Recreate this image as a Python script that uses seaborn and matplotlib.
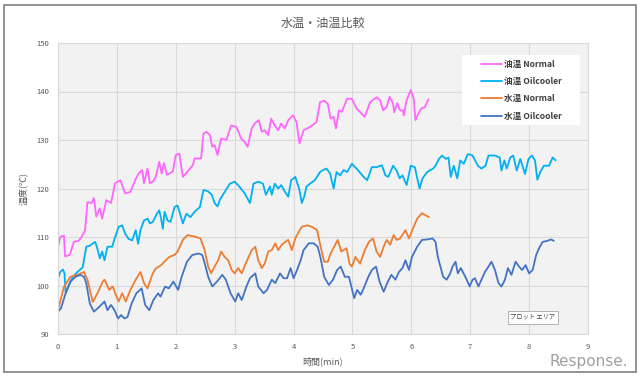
import pandas as pd
import matplotlib.pyplot as plt
import seaborn as sns
from matplotlib.patches import Rectangle

# --- data (time in min, temperature in deg C) ---
t_oil_normal = [0, 0.04, 0.1, 0.12, 0.2, 0.27, 0.35, 0.4, 0.46, 0.5,
                0.57, 0.61, 0.65, 0.71, 0.75, 0.82, 0.9, 0.97, 1.06, 1.14,
                1.23, 1.31, 1.37, 1.43, 1.46, 1.52, 1.56, 1.61, 1.66, 1.72,
                1.76, 1.8, 1.85, 1.95, 2.0, 2.06, 2.12, 2.2, 2.29, 2.32,
                2.43, 2.47, 2.52, 2.58, 2.62, 2.66, 2.71, 2.77, 2.86, 2.94,
                3.03, 3.11, 3.17, 3.22, 3.29, 3.34, 3.41, 3.46, 3.51, 3.57,
                3.62, 3.68, 3.74, 3.79, 3.85, 3.91, 3.99, 4.05, 4.1, 4.17,
                4.28, 4.39, 4.45, 4.52, 4.58, 4.63, 4.68, 4.72, 4.77, 4.82,
                4.91, 4.99, 5.07, 5.16, 5.21, 5.3, 5.41, 5.47, 5.52, 5.58,
                5.63, 5.69, 5.71, 5.76, 5.81, 5.86, 5.87, 5.92, 5.99, 6.04,
                6.07, 6.12, 6.17, 6.23, 6.29]
oil_normal = [108, 110, 110.3, 106, 106.3, 109, 109.2, 110, 111.4, 117.2,
              117, 118, 114.2, 115.9, 113.8, 117.6, 117, 121.1, 121.7, 119,
              119.3, 121.7, 123.1, 123.8, 121.1, 124.1, 121.1, 121.4, 122.4, 125.5,
              123.1, 125.2, 122.8, 123.5, 126.9, 127.2, 122.4, 123.5, 124.8, 126.2,
              126.2, 131.3, 131.7, 131, 128.6, 128.9, 126.9, 130.3, 130, 133,
              132.7, 130.3, 129.6, 128.6, 132.4, 133.4, 134.1, 131.7, 132, 131,
              134.4, 133, 132, 133.4, 132.4, 134.1, 135.1, 133.7, 129.3, 132,
              132.7, 133.7, 137.8, 138.1, 137.5, 134.4, 134.8, 132.4, 136.1, 135.8,
              138.5, 138.5, 136.5, 135.4, 134.8, 137.8, 138.8, 138.2, 136.1, 136.8,
              138.9, 137.5, 135.7, 137.6, 136.1, 136.1, 135.1, 138.2, 140.3, 138.6,
              134.1, 135.5, 136.5, 136.8, 138.4]

t_oil_cooler = [0, 0.04, 0.085, 0.11, 0.13, 0.25, 0.33, 0.39, 0.42, 0.48,
                0.54, 0.63, 0.66, 0.71, 0.75, 0.79, 0.84, 0.92, 0.96, 1.03,
                1.09, 1.14, 1.2, 1.26, 1.32, 1.36, 1.4, 1.46, 1.52, 1.56,
                1.61, 1.68, 1.72, 1.75, 1.78, 1.81, 1.86, 1.91, 1.98, 2.03,
                2.09, 2.12, 2.18, 2.25, 2.32, 2.41, 2.47, 2.55, 2.61, 2.66,
                2.71, 2.75, 2.8, 2.92, 3.0, 3.08, 3.17, 3.26, 3.32, 3.4,
                3.48, 3.53, 3.6, 3.63, 3.68, 3.74, 3.79, 3.87, 3.91, 3.96,
                4.03, 4.1, 4.14, 4.18, 4.22, 4.28, 4.36, 4.45, 4.5, 4.56,
                4.62, 4.68, 4.73, 4.79, 4.85, 4.91, 4.99, 5.07, 5.12, 5.19,
                5.25, 5.33, 5.41, 5.5, 5.56, 5.61, 5.69, 5.75, 5.8, 5.85,
                5.92, 5.99, 6.06, 6.1, 6.14, 6.19, 6.27, 6.37, 6.41, 6.47,
                6.52, 6.59, 6.63, 6.67, 6.72, 6.78, 6.83, 6.89, 6.96, 7.04,
                7.13, 7.19, 7.26, 7.31, 7.42, 7.5, 7.53, 7.58, 7.62, 7.68,
                7.73, 7.79, 7.85, 7.93, 7.99, 8.05, 8.1, 8.14, 8.19, 8.25,
                8.34, 8.4, 8.45]
oil_cooler = [101.5, 102.8, 103.3, 102.5, 98.5, 101.8, 102.8, 103.4, 103.8, 108,
              108.2, 109, 108, 105.6, 107, 105.2, 108, 108, 109.6, 112.1,
              112.4, 110.7, 109.6, 109.3, 111.4, 108.6, 111.4, 113.4, 113.8, 112.8,
              113.1, 114.8, 115.5, 113.8, 111.7, 115.2, 113.4, 113.1, 116.2, 116.5,
              114.1, 112.8, 114.8, 114.1, 115.2, 116.2, 119.7, 119.4, 118.7, 117,
              116.3, 117.7, 118.7, 121, 121.4, 120.4, 119, 117, 121, 121.4,
              121, 118.7, 120.4, 118.7, 121, 120, 120.7, 119, 118.3, 121.7,
              122.4, 119.7, 117, 118.3, 120.4, 121, 121.7, 123.4, 123.8, 124.1,
              123.1, 120, 123.4, 122.7, 123.8, 123.4, 125.1, 124.1, 123.4, 122.4,
              121.7, 124.4, 124.4, 124.8, 122.7, 122.4, 124.7, 123.7, 122.1, 122.7,
              120.7, 124.7, 124.4, 122.1, 120, 122.1, 123.4, 124.1, 124.7, 126.1,
              126.8, 126.1, 126.4, 122.4, 124.7, 122.1, 125.8, 125.1, 127.1, 126.8,
              124.7, 124.1, 124.7, 126.8, 126.8, 126.4, 123.7, 125.8, 124.1, 126.4,
              126.8, 123.7, 126.1, 123, 126.1, 126.8, 125.8, 121.8, 123.4, 124.7,
              124.7, 126.4, 125.8]

t_water_normal = [0, 0.1, 0.21, 0.33, 0.44, 0.5, 0.59, 0.67, 0.76, 0.79,
                  0.87, 0.93, 0.98, 1.03, 1.09, 1.15, 1.23, 1.32, 1.4, 1.46,
                  1.52, 1.61, 1.66, 1.75, 1.83, 1.89, 1.98, 2.03, 2.12, 2.2,
                  2.32, 2.42, 2.49, 2.55, 2.6, 2.66, 2.72, 2.77, 2.83, 2.89,
                  2.95, 3.0, 3.06, 3.12, 3.2, 3.29, 3.35, 3.4, 3.46, 3.51,
                  3.57, 3.63, 3.69, 3.74, 3.8, 3.86, 3.91, 3.97, 4.03, 4.09,
                  4.14, 4.23, 4.31, 4.4, 4.46, 4.52, 4.58, 4.63, 4.69, 4.75,
                  4.81, 4.9, 4.95, 4.99, 5.05, 5.13, 5.21, 5.28, 5.35, 5.41,
                  5.47, 5.53, 5.58, 5.64, 5.7, 5.75, 5.81, 5.9, 5.96, 6.04,
                  6.1, 6.18, 6.24, 6.3]
water_normal = [94.9, 99.7, 101.8, 102.2, 102.8, 101.2, 96.6, 98.4, 100.8, 101.2,
                99.1, 99.8, 98.1, 96.7, 98.4, 96.7, 99.1, 101.2, 102.8, 100.5,
                99.4, 102.5, 103.5, 104.2, 105.2, 105.9, 106.3, 107, 109.4, 110.4,
                110.1, 109.7, 107.3, 103.9, 102.5, 103.9, 105.2, 107, 105.9, 105.2,
                103.2, 102.5, 103.6, 102.5, 104.9, 107.3, 108, 105.2, 103.6, 104.5,
                107, 107.3, 108.7, 107.3, 108.4, 109, 109.4, 107.3, 109.7, 111.1,
                112.1, 112.4, 112.1, 111.4, 108, 104.9, 104.9, 106.6, 108, 109.4,
                107, 107.7, 104.5, 103.9, 105.9, 104.5, 107.3, 109, 109.7, 107,
                105.9, 108, 109.4, 108.4, 110.4, 109.4, 109.7, 111.4, 109.7, 112.1,
                113.8, 114.9, 114.5, 114.1]

t_water_cooler = [0, 0.05, 0.13, 0.21, 0.3, 0.38, 0.44, 0.48, 0.54, 0.61,
                  0.7, 0.79, 0.84, 0.9, 0.96, 1.02, 1.07, 1.13, 1.18, 1.25,
                  1.33, 1.42, 1.48, 1.55, 1.62, 1.7, 1.74, 1.82, 1.88, 1.96,
                  2.04, 2.1, 2.19, 2.28, 2.39, 2.45, 2.5, 2.55, 2.62, 2.7,
                  2.79, 2.85, 2.93, 3.01, 3.06, 3.12, 3.2, 3.26, 3.35, 3.4,
                  3.49, 3.55, 3.63, 3.69, 3.77, 3.83, 3.89, 3.95, 4.0, 4.06,
                  4.12, 4.17, 4.26, 4.34, 4.41, 4.46, 4.52, 4.6, 4.67, 4.74,
                  4.8, 4.87, 4.94, 5.03, 5.08, 5.14, 5.18, 5.27, 5.33, 5.4,
                  5.46, 5.53, 5.59, 5.66, 5.73, 5.79, 5.85, 5.9, 5.96, 6.01,
                  6.1, 6.18, 6.27, 6.36, 6.41, 6.45, 6.5, 6.54, 6.6, 6.66,
                  6.7, 6.75, 6.79, 6.84, 6.9, 6.94, 6.99, 7.04, 7.08, 7.14,
                  7.19, 7.25, 7.31, 7.36, 7.42, 7.48, 7.53, 7.59, 7.64, 7.7,
                  7.77, 7.83, 7.88, 7.94, 8.0, 8.06, 8.12, 8.17, 8.23, 8.31,
                  8.37, 8.42]
water_cooler = [94.6, 95.3, 98.4, 100.8, 101.8, 102.2, 101.8, 100.5, 96.3, 94.6,
                95.6, 96.7, 94.9, 96, 94.9, 93.2, 93.9, 93.2, 93.5, 96.3,
                98.4, 99.4, 96, 94.9, 97, 98.4, 97.7, 99.8, 99.4, 100.8,
                99.1, 101.8, 104.9, 106.3, 106.6, 106.3, 104.2, 101.8, 99.8, 100.8,
                102.2, 101.2, 98.4, 96.7, 98.4, 97, 99.8, 101.5, 102.5, 99.8,
                98.4, 99.1, 101.2, 100.5, 102.5, 101.5, 101.5, 103.6, 101.5, 103.2,
                105.2, 107.3, 108.7, 108.7, 108, 105.6, 101.8, 100.1, 101.2, 103.2,
                103.9, 101.8, 101.8, 97.4, 99.1, 98.1, 99.1, 101.8, 103.2, 103.9,
                100.8, 98.7, 100.5, 102.2, 101.2, 102.8, 103.6, 105.2, 103.2, 105.9,
                108, 109.4, 109.5, 109.7, 109, 105.9, 103.6, 101.8, 101.2, 102.5,
                103.9, 104.9, 102.5, 103.6, 102.2, 101.2, 99.8, 101.2, 101.5, 99.8,
                101.2, 102.8, 103.9, 104.9, 103.2, 100.5, 99.8, 101.2, 103.6, 102.2,
                104.9, 103.9, 103.2, 104.2, 102.5, 103.2, 106.3, 107.7, 109, 109.2,
                109.5, 109.2]

labels = ['油温 Normal', '油温 Oilcooler', '水温 Normal', '水温 Oilcooler']
colors = ['#ff66ff', '#00b0f0', '#ed7d31', '#4472c4']
x_ticks = list(range(0, 10))
y_ticks = list(range(90, 151, 10))

series = [(t_oil_normal, oil_normal), (t_oil_cooler, oil_cooler),
          (t_water_normal, water_normal), (t_water_cooler, water_cooler)]
df = pd.concat([pd.DataFrame({'time': t, 'temp': v, 'series': lab})
                for (t, v), lab in zip(series, labels)], ignore_index=True)

sns.set_theme(style='whitegrid')
plt.rcParams['font.family'] = ['Noto Sans CJK JP', 'DejaVu Sans']
txt = '#595959'

fig = plt.figure(figsize=(6.4, 3.77), dpi=100)
fig.patches.append(Rectangle((4 / 640, 5 / 377), 632 / 640, 367 / 377,
                             transform=fig.transFigure, fill=False,
                             edgecolor='#7f7f7f', lw=1.2))
ax = fig.add_axes([58 / 640, 1 - 334 / 377, 530 / 640, 291 / 377])
ax.set_facecolor('#f2f2f2')

sns.lineplot(data=df, x='time', y='temp', hue='series', hue_order=labels,
             palette=dict(zip(labels, colors)), estimator=None, sort=False,
             linewidth=1.3, ax=ax)

ax.set(xlim=(0, 9), ylim=(90, 150))
ax.set_xticks(x_ticks)
ax.set_yticks(y_ticks)
ax.grid(color='#d9d9d9', lw=0.8)
for s in ax.spines.values():
    s.set_color('#d9d9d9')
    s.set_linewidth(0.8)
ax.tick_params(length=0, labelsize=5.5, labelcolor=txt, pad=6.5)

ax.set_xlabel('時間(min)', fontsize=6.5, color=txt, labelpad=4)
ax.set_ylabel('温度(℃)', fontsize=6.5, color=txt, labelpad=6)
fig.text(323 / 640, 1 - 23 / 377, '水温・油温比較', ha='center', va='center',
         fontsize=8.7, color=txt)

# legend: white box drawn separately so the padding can match the original
ax.add_patch(Rectangle((462 / 640, 1 - 125 / 377), 118 / 640, 70 / 377,
                       transform=fig.transFigure, facecolor='white',
                       edgecolor='none', zorder=4))
leg = ax.legend(loc='upper left', bbox_to_anchor=(481 / 640, 1 - 60 / 377),
                bbox_transform=fig.transFigure, frameon=False,
                prop={'size': 6.2, 'weight': 'bold'}, handlelength=2.4,
                handletextpad=0.25, labelspacing=0.95, borderpad=0,
                borderaxespad=0)
leg.set_zorder(5)
for text in leg.get_texts():
    text.set_color('#404040')

fig.text(533 / 640, 1 - 317 / 377, 'プロット エリア', ha='center', va='center',
         fontsize=4.5, color='#404040',
         bbox=dict(boxstyle='square,pad=0.4', fc='white', ec='#a6a6a6', lw=0.6))
fig.text(628 / 640, 1 - 369 / 377, 'Response.', ha='right', va='bottom',
         fontsize=11, color='#a0a0a0', family='DejaVu Sans')

fig.savefig('out.png', dpi=100)
